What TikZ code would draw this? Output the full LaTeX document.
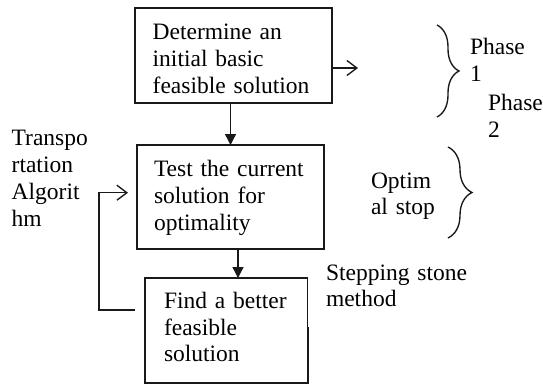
\documentclass[tikz,border=0pt]{standalone}
\usepackage{fontspec}
\setmainfont{Liberation Serif}
\usetikzlibrary{arrows.meta,decorations.pathreplacing}
\begin{document}
\begin{tikzpicture}[x=1pt,y=-1pt,
  lw/.style={line width=1.35pt, draw=black!90},
  box/.style={lw, rectangle, inner sep=0pt, outer sep=0pt},
  txt/.style={anchor=base west, inner sep=0pt, outer sep=0pt, text width=180pt, align=left,
              font=\fontsize{23.5}{26.7}\selectfont, text=black},
  openarrow/.style={lw, -{Straight Barb[length=10pt,width=15pt,line width=1.35pt]}},
  fillarrow/.style={lw, -{Triangle[length=11pt,width=11pt]}},
  bracelabel/.style={lw, decorate, decoration={brace, amplitude=#1}}
]
\useasboundingbox (0,0) rectangle (543,385);
\fill[white] (0,0) rectangle (543,385);

% boxes
\node[box, minimum width=197pt, minimum height=95pt] (b1) at (233.5,55.5) {};
\node[box, minimum width=187pt, minimum height=104pt] (b2) at (230.5,197) {};
\node[box, minimum width=163pt, minimum height=105pt] (b3) at (226.5,330.5) {};

% white area under the "Stepping stone" label
\fill[white] (307.5,250.4) rectangle (480,327);

% box texts
\node[txt] (t1) at (152.7,40) {Determine an\\initial basic\\feasible solution};
\node[txt] (t2) at (154,176.7) {Test the current\\solution for\\optimality};
\node[txt] (t3) at (164,308.3) {Find a better\\feasible\\solution};

% side labels
\node[txt] (algo) at (11.7,146) {Transpo\\rtation\\Algorit\\hm};
\node[txt] (step) at (326,280) {Stepping stone\\method};
\node[txt] (ph1) at (470,55) {Phase\\1};
\node[txt] (ph2) at (488,110.7) {Phase\\2};
\node[txt] (opt) at (371,188) {Optim\\al stop};

% connectors
\draw[fillarrow] (b1.south -| b2.north) -- (b2.north);
\draw[fillarrow] ([xshift=7.5pt]b2.south) -- ([xshift=7.5pt]b2.south |- b3.north);
\coordinate (r1) at (358,68);
\draw[openarrow] (b1.east |- r1) -- (r1);
\coordinate (l1) at (135,310);
\coordinate (l2) at (128,192.7);
\coordinate (lc) at (99,192.7);
\draw[openarrow] (l1) -| (lc) -- (l2);

% braces
\coordinate (br1a) at (437,25);
\coordinate (br1b) at (437,117);
\coordinate (br2a) at (448,147);
\coordinate (br2b) at (448,238);
\draw[bracelabel=22pt] (br1a) -- (br1b);
\draw[bracelabel=24pt] (br2a) -- (br2b);
\end{tikzpicture}
\end{document}
